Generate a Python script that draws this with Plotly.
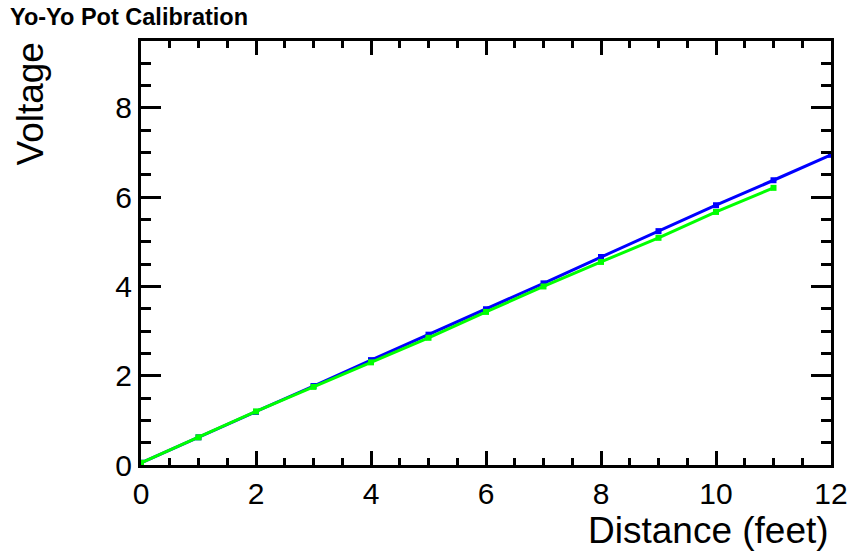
import plotly.graph_objects as go

distance = [0, 1, 2, 3, 4, 5, 6, 7, 8, 9, 10, 11, 12]
voltage_blue = [0.05, 0.62, 1.19, 1.77, 2.35, 2.92, 3.49, 4.07, 4.66, 5.24, 5.82, 6.38, 6.95]
distance_green = [0, 1, 2, 3, 4, 5, 6, 7, 8, 9, 10, 11]
voltage_green = [0.05, 0.62, 1.20, 1.75, 2.30, 2.85, 3.43, 4.00, 4.55, 5.09, 5.67, 6.21]

FONT = "Liberation Sans, Arial, Helvetica, sans-serif"
W, H = 850, 552

fig = go.Figure()
fig.add_trace(go.Scatter(x=distance, y=voltage_blue, mode="lines+markers",
                         line=dict(color="#0000ff", width=3),
                         marker=dict(symbol="square", size=6, color="#0000ff"),
                         showlegend=False, cliponaxis=False))
fig.add_trace(go.Scatter(x=distance_green, y=voltage_green, mode="lines+markers",
                         line=dict(color="#00ff00", width=3),
                         marker=dict(symbol="square", size=6, color="#00ff00"),
                         showlegend=False, cliponaxis=False))

axis_common = dict(showgrid=False, zeroline=False, showline=True, linecolor="black",
                   linewidth=3, mirror="allticks", ticks="inside", tickcolor="black",
                   tickwidth=3, ticklabeloverflow="allow", automargin=False,
                   tickfont=dict(family=FONT, size=30, color="black"))

fig.update_xaxes(range=[0, 12], dtick=2, tick0=0, ticklen=14,
                 minor=dict(ticks="inside", dtick=0.5, ticklen=7, tickwidth=3, tickcolor="black"),
                 **axis_common)
fig.update_yaxes(range=[0, 9.5], dtick=2, tick0=0, ticklen=20,
                 minor=dict(ticks="inside", dtick=0.5, ticklen=10, tickwidth=3, tickcolor="black"),
                 **axis_common)

fig.update_layout(
    width=W, height=H,
    margin=dict(l=141, r=W - 831, t=41, b=H - 465, autoexpand=False),
    plot_bgcolor="white", paper_bgcolor="white",
    title=dict(text="<b>Yo-Yo Pot Calibration</b>", x=10 / W, xanchor="left",
               y=1 - 17 / H, yanchor="middle", xref="container", yref="container",
               font=dict(family=FONT, size=23.5, color="black")),
    annotations=[
        dict(text="Voltage", textangle=-90, xref="paper", yref="paper",
             x=(30 - 141) / 690, y=1.0, xanchor="center", yanchor="top", showarrow=False,
             font=dict(family=FONT, size=37, color="black")),
        dict(text="Distance (feet)", xref="paper", yref="paper",
             x=1.0, y=(465 - 530) / 424, xanchor="right", yanchor="middle", showarrow=False,
             font=dict(family=FONT, size=37, color="black")),
    ],
)

fig.write_html("out.html",
               config={"responsive": False, "displayModeBar": False},
               post_script="document.body.style.margin='0';document.body.style.overflow='hidden';")
